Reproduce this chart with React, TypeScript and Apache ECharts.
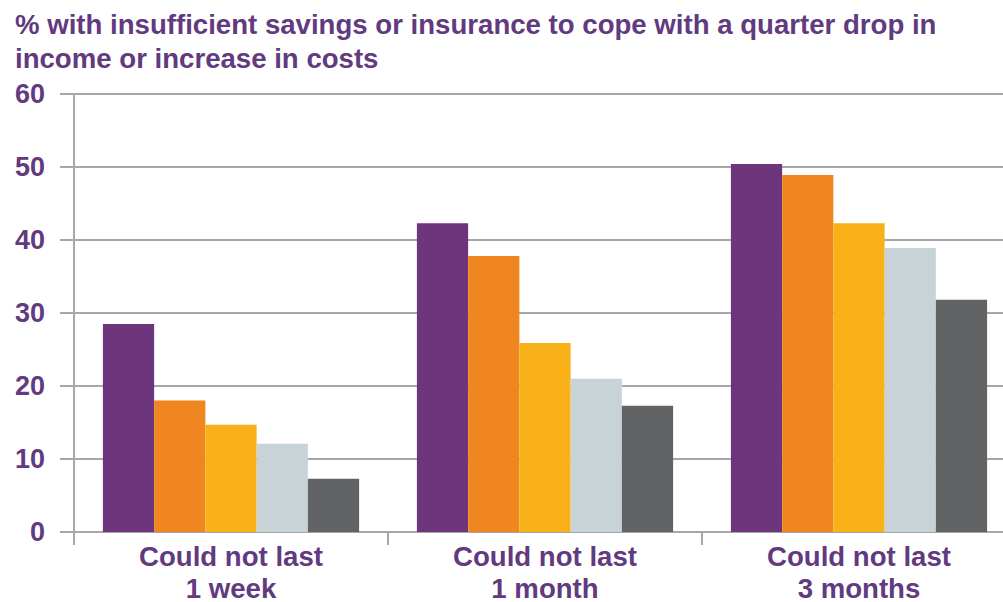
import React, { useEffect, useRef } from "react";
import * as echarts from "echarts";

const categories = ["Could not last\n1 week", "Could not last\n1 month", "Could not last\n3 months"];
const seriesA = [28.5, 42.3, 50.4];
const seriesB = [18.0, 37.8, 48.9];
const seriesC = [14.7, 25.9, 42.3];
const seriesD = [12.1, 21.0, 38.9];
const seriesE = [7.3, 17.3, 31.8];
const colors = ["#6C357C", "#F0861F", "#F9B11A", "#C8D3D8", "#626365"];
const titleText = "% with insufficient savings or insurance to cope with a quarter drop in\nincome or increase in costs";

const textColor = "#613A80";
const lineColor = "#A6A7A9";
const font = "Liberation Sans, Arial, sans-serif";

export default function App() {
  const ref = useRef<HTMLDivElement>(null);
  useEffect(() => {
    if (!ref.current) return;
    const chart = echarts.init(ref.current, undefined, { renderer: "svg" });
    const data = [seriesA, seriesB, seriesC, seriesD, seriesE];
    chart.setOption({
      animation: false,
      title: {
        text: titleText,
        left: 10,
        top: 2,
        textStyle: {
          color: textColor,
          fontFamily: font,
          fontSize: 27.6,
          fontWeight: "bold",
          lineHeight: 34,
        },
      },
      grid: { left: 74, top: 94, bottom: 70, right: 0, outerBoundsMode: "none", containLabel: false },
      xAxis: {
        type: "category",
        data: categories,
        axisLine: { lineStyle: { color: lineColor, width: 2 } },
        axisTick: { show: true, length: 13, lineStyle: { color: lineColor, width: 2 } },
        axisLabel: {
          color: textColor,
          fontFamily: font,
          fontSize: 27.6,
          fontWeight: "bold",
          lineHeight: 32,
          margin: 8,
        },
      },
      yAxis: {
        type: "value",
        min: 0,
        max: 60,
        interval: 10,
        axisLine: { show: true, lineStyle: { color: lineColor, width: 2 } },
        axisTick: { show: true, length: 14, lineStyle: { color: lineColor, width: 2 } },
        splitLine: { lineStyle: { color: lineColor, width: 2 } },
        axisLabel: {
          color: textColor,
          fontFamily: font,
          fontSize: 27,
          fontWeight: "bold",
          margin: 29,
        },
      },
      series: data.map((d, i) => ({
        type: "bar",
        data: d,
        barGap: "0%",
        barCategoryGap: "18.4%",
        itemStyle: { color: colors[i] },
      })),
    });
    return () => chart.dispose();
  }, []);
  return (
    <div style={{ position: "fixed", left: 0, top: 0, width: 1003, height: 602, overflow: "hidden", background: "#fff" }}>
      <div ref={ref} style={{ width: 1016, height: 602 }} />
    </div>
  );
}
